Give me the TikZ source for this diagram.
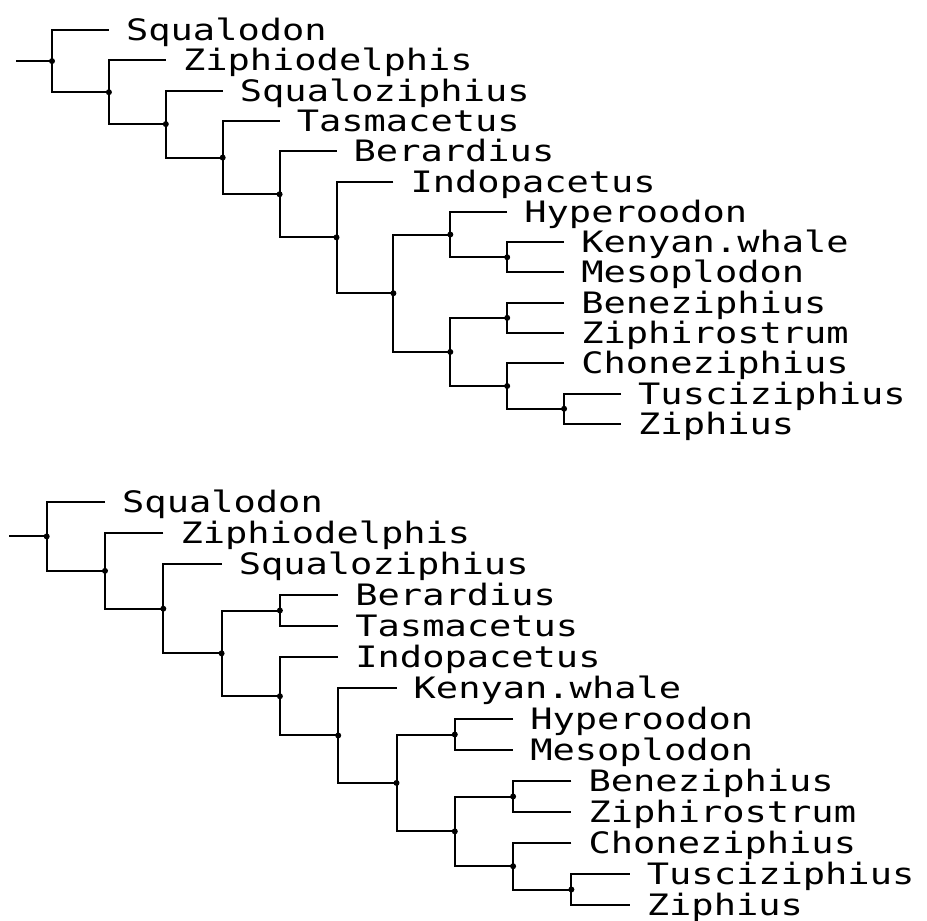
\documentclass[tikz,border=0pt]{standalone}
\usepackage{fontspec}
\newfontfamily\labfont[FakeStretch=1.255]{DejaVu Sans Mono}
\begin{document}
\begin{tikzpicture}[x=1pt,y=-1pt,
  br/.style={line width=2pt},
  dot/.style={circle,fill=black,inner sep=0pt,minimum size=6pt},
  lab/.style={anchor=base west,inner sep=0pt,font={\labfont\fontsize{29.5}{31}\selectfont},xshift=17pt,yshift=-10.5pt}]
\useasboundingbox (0,0) rectangle (927,921);
% ---------------- top tree ----------------
\coordinate (tr) at (16,61.1);
\coordinate (tt0) at (108.9,30);
\coordinate (tt1) at (165.8,60.3);
\coordinate (tt2) at (222.7,90.6);
\coordinate (tt3) at (279.6,120.9);
\coordinate (tt4) at (336.5,151.2);
\coordinate (tt5) at (393.4,181.5);
\coordinate (tt6) at (507.2,211.8);
\coordinate (tt7) at (564.1,242.1);
\coordinate (tt8) at (564.1,272.4);
\coordinate (tt9) at (564.1,302.7);
\coordinate (tt10) at (564.1,333);
\coordinate (tt11) at (564.1,363.3);
\coordinate (tt12) at (621,393.6);
\coordinate (tt13) at (621,423.9);
\node[dot] (tn1) at (52,61.1) {};
\node[dot] (tn2) at (108.9,92.2) {};
\node[dot] (tn3) at (165.8,124.1) {};
\node[dot] (tn4) at (222.7,157.59) {};
\node[dot] (tn5) at (279.6,194.28) {};
\node[dot] (tn6) at (336.5,237.37) {};
\node[dot] (tn7) at (393.4,293.23) {};
\node[dot] (thk) at (450.3,234.53) {};
\node[dot] (tkm) at (507.2,257.25) {};
\node[dot] (tbc) at (450.3,351.94) {};
\node[dot] (tbz) at (507.2,317.85) {};
\node[dot] (tctz) at (507.2,386.03) {};
\node[dot] (ttz) at (564.1,408.75) {};
\draw[br] (tr) -- (tn1.center);
\draw[br] (tt0) -| (tn1.center) |- (tn2.center);
\draw[br] (tt1) -| (tn2.center) |- (tn3.center);
\draw[br] (tt2) -| (tn3.center) |- (tn4.center);
\draw[br] (tt3) -| (tn4.center) |- (tn5.center);
\draw[br] (tt4) -| (tn5.center) |- (tn6.center);
\draw[br] (tt5) -| (tn6.center) |- (tn7.center);
\draw[br] (thk.center) -| (tn7.center) |- (tbc.center);
\draw[br] (tt6) -| (thk.center) |- (tkm.center);
\draw[br] (tt7) -| (tkm.center) |- (tt8);
\draw[br] (tbz.center) -| (tbc.center) |- (tctz.center);
\draw[br] (tt9) -| (tbz.center) |- (tt10);
\draw[br] (tt11) -| (tctz.center) |- (ttz.center);
\draw[br] (tt12) -| (ttz.center) |- (tt13);
\node[lab] (tl0) at (tt0) {Squalodon};
\node[lab] (tl1) at (tt1) {Ziphiodelphis};
\node[lab] (tl2) at (tt2) {Squaloziphius};
\node[lab] (tl3) at (tt3) {Tasmacetus};
\node[lab] (tl4) at (tt4) {Berardius};
\node[lab] (tl5) at (tt5) {Indopacetus};
\node[lab] (tl6) at (tt6) {Hyperoodon};
\node[lab] (tl7) at (tt7) {Kenyan.whale};
\node[lab] (tl8) at (tt8) {Mesoplodon};
\node[lab] (tl9) at (tt9) {Beneziphius};
\node[lab] (tl10) at (tt10) {Ziphirostrum};
\node[lab] (tl11) at (tt11) {Choneziphius};
\node[lab] (tl12) at (tt12) {Tusciziphius};
\node[lab] (tl13) at (tt13) {Ziphius};
% ---------------- bottom tree ----------------
\coordinate (br) at (9,536.42);
\coordinate (bt0) at (105,502);
\coordinate (bt1) at (163.3,533);
\coordinate (bt2) at (221.6,564);
\coordinate (bt3) at (338.2,595);
\coordinate (bt4) at (338.2,626);
\coordinate (bt5) at (338.2,657);
\coordinate (bt6) at (396.5,688);
\coordinate (bt7) at (513.1,719);
\coordinate (bt8) at (513.1,750);
\coordinate (bt9) at (571.4,781);
\coordinate (bt10) at (571.4,812);
\coordinate (bt11) at (571.4,843);
\coordinate (bt12) at (629.7,874);
\coordinate (bt13) at (629.7,905);
\node[dot] (bn1) at (46.7,536.42) {};
\node[dot] (bn2) at (105,570.84) {};
\node[dot] (bn3) at (163.3,608.69) {};
\node[dot] (bn4) at (221.6,653.37) {};
\node[dot] (bbt) at (279.9,610.5) {};
\node[dot] (bn5) at (279.9,696.24) {};
\node[dot] (bn6) at (338.2,735.47) {};
\node[dot] (bn7) at (396.5,782.94) {};
\node[dot] (bhm) at (454.8,734.5) {};
\node[dot] (bbc) at (454.8,831.38) {};
\node[dot] (bbz) at (513.1,796.5) {};
\node[dot] (bctz) at (513.1,866.25) {};
\node[dot] (btz) at (571.4,889.5) {};
\draw[br] (br) -- (bn1.center);
\draw[br] (bt0) -| (bn1.center) |- (bn2.center);
\draw[br] (bt1) -| (bn2.center) |- (bn3.center);
\draw[br] (bt2) -| (bn3.center) |- (bn4.center);
\draw[br] (bbt.center) -| (bn4.center) |- (bn5.center);
\draw[br] (bt3) -| (bbt.center) |- (bt4);
\draw[br] (bt5) -| (bn5.center) |- (bn6.center);
\draw[br] (bt6) -| (bn6.center) |- (bn7.center);
\draw[br] (bhm.center) -| (bn7.center) |- (bbc.center);
\draw[br] (bt7) -| (bhm.center) |- (bt8);
\draw[br] (bbz.center) -| (bbc.center) |- (bctz.center);
\draw[br] (bt9) -| (bbz.center) |- (bt10);
\draw[br] (bt11) -| (bctz.center) |- (btz.center);
\draw[br] (bt12) -| (btz.center) |- (bt13);
\node[lab] (bl0) at (bt0) {Squalodon};
\node[lab] (bl1) at (bt1) {Ziphiodelphis};
\node[lab] (bl2) at (bt2) {Squaloziphius};
\node[lab] (bl3) at (bt3) {Berardius};
\node[lab] (bl4) at (bt4) {Tasmacetus};
\node[lab] (bl5) at (bt5) {Indopacetus};
\node[lab] (bl6) at (bt6) {Kenyan.whale};
\node[lab] (bl7) at (bt7) {Hyperoodon};
\node[lab] (bl8) at (bt8) {Mesoplodon};
\node[lab] (bl9) at (bt9) {Beneziphius};
\node[lab] (bl10) at (bt10) {Ziphirostrum};
\node[lab] (bl11) at (bt11) {Choneziphius};
\node[lab] (bl12) at (bt12) {Tusciziphius};
\node[lab] (bl13) at (bt13) {Ziphius};
\end{tikzpicture}
\end{document}
